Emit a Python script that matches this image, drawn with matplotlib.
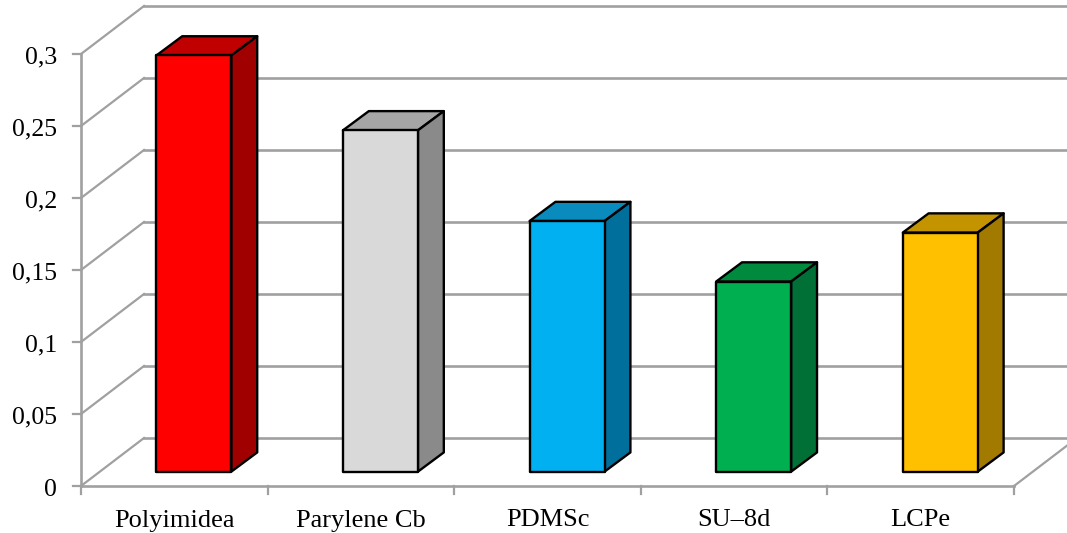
import matplotlib.pyplot as plt
from matplotlib.patches import Polygon

# ========== DATA ==========

categories = ["Polyimidea", "Parylene Cb", "PDMSc", "SU\u20138d", "LCPe"]
values = [0.289, 0.237, 0.174, 0.132, 0.166]
y_ticks = [0, 0.05, 0.1, 0.15, 0.2, 0.25, 0.3]
y_tick_labels = ["0", "0,05", "0,1", "0,15", "0,2", "0,25", "0,3"]

front_colors = ["#FF0000", "#D9D9D9", "#00B0F0", "#00B050", "#FFC000"]
top_colors = ["#C00000", "#A6A6A6", "#0A8BBE", "#008A3E", "#C49300"]
side_colors = ["#A00000", "#8A8A8A", "#006F9B", "#007036", "#A27A00"]

# ========== LAYOUT ==========

W, H = 1067, 533
LEFT, RIGHT = 81, 1014
BASE, TOP = 486, 54
GRID = "#A0A0A0"
DARK = "#000000"

px_x = (RIGHT - LEFT) / len(categories)
px_y = (BASE - TOP) / max(y_ticks)

# oblique offset of the back wall, in data units
depth_x = 63 / px_x
depth_y = 48 / px_y
bar_w = 75 / px_x
bar_dx = 0.41 * depth_x
bar_dy = 0.40 * depth_y
gap_x = (depth_x - bar_dx) / 2 + 1 / px_x
gap_y = (depth_y - bar_dy) / 2

plt.rcParams['font.family'] = ['Liberation Serif', 'DejaVu Serif']

fig = plt.figure(figsize=(W / 100, H / 100), dpi=100)
ax = fig.add_axes([0, 0, 1, 1])
ax.set_xlim(-LEFT / px_x, (W - LEFT) / px_x)
ax.set_ylim((BASE - H) / px_y, BASE / px_y)
ax.axis('off')

n = len(categories)
y_max = max(y_ticks)

# ========== WALLS ==========

for t, label in zip(y_ticks, y_tick_labels):
    ax.plot([0, depth_x], [t, t + depth_y], color=GRID, lw=1.6, zorder=1)
    ax.plot([depth_x, n + depth_x], [t + depth_y, t + depth_y], color=GRID, lw=1.9, zorder=1)
    ax.plot([-8 / px_x, 0], [t, t], color=GRID, lw=1.6, zorder=1)
    ax.text(-24 / px_x, t - 1 / px_y, label, ha='right', va='center_baseline',
            fontsize=18.5, color=DARK)

ax.plot([0, 0], [0, y_max], color=GRID, lw=1.9, zorder=1)
ax.plot([0, n], [0, 0], color=GRID, lw=1.9, zorder=1)
ax.plot([n, n + depth_x], [0, depth_y], color=GRID, lw=1.6, zorder=1)

for i in range(n + 1):
    ax.plot([i, i], [0, -8 / px_y], color=GRID, lw=1.6, zorder=1)

# ========== BARS ==========

for i, v in enumerate(values):
    x0 = i + 0.5 + gap_x - bar_w / 2
    x1 = x0 + bar_w
    y0 = gap_y
    y1 = gap_y + v
    top = [(x0, y1), (x1, y1), (x1 + bar_dx, y1 + bar_dy), (x0 + bar_dx, y1 + bar_dy)]
    side = [(x1, y0), (x1 + bar_dx, y0 + bar_dy), (x1 + bar_dx, y1 + bar_dy), (x1, y1)]
    front = [(x0, y0), (x1, y0), (x1, y1), (x0, y1)]
    for pts, col in ((top, top_colors[i]), (side, side_colors[i]), (front, front_colors[i])):
        ax.add_patch(Polygon(pts, closed=True, facecolor=col, edgecolor=DARK, lw=1.7,
                             joinstyle='round', zorder=3))
    ax.text(i + 0.5, -32 / px_y, categories[i], ha='center', va='center_baseline',
            fontsize=19, color=DARK)

fig.savefig("out.png", dpi=100)
